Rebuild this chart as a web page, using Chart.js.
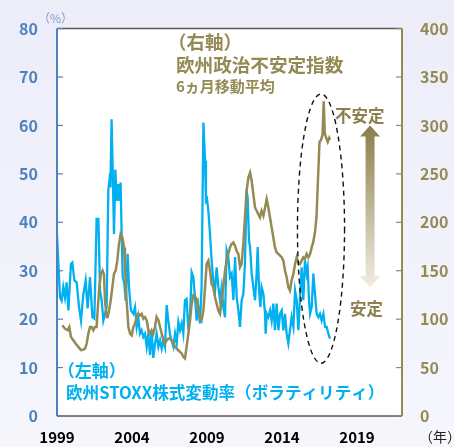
<!DOCTYPE html>
<html>
<head>
<meta charset="utf-8">
<script src="https://cdn.jsdelivr.net/npm/chart.js@4.4.0/dist/chart.umd.min.js"></script>
<style>
html,body{margin:0;padding:0;background:#f1f1fa;}
#wrap{width:454px;height:447px;}
</style>
</head>
<body>
<div id="wrap"><canvas id="myChart" width="454" height="447"></canvas></div>
<script>
// x axis (years)
const xTickValues = [1999, 2004, 2009, 2014, 2019]
const xTickLabels = ['1999', '2004', '2009', '2014', '2019']

// 欧州STOXX株式変動率 (left axis, %)
const volYears = [1999.0, 1999.2, 1999.31, 1999.42, 1999.53, 1999.64, 1999.76, 1999.93, 2000.02, 2000.16,
  2000.31, 2000.47, 2000.6, 2000.76, 2000.91, 2001.04, 2001.2, 2001.36, 2001.49, 2001.64,
  2001.76, 2001.87, 2001.98, 2002.09, 2002.2, 2002.31, 2002.42, 2002.49, 2002.56, 2002.64,
  2002.71, 2002.8, 2002.89, 2002.98, 2003.09, 2003.16, 2003.24, 2003.31, 2003.38, 2003.49,
  2003.58, 2003.71, 2003.8, 2003.93, 2004.09, 2004.2, 2004.31, 2004.42, 2004.53, 2004.64,
  2004.76, 2004.87, 2004.98, 2005.09, 2005.2, 2005.31, 2005.42, 2005.53, 2005.64, 2005.76,
  2005.87, 2005.98, 2006.09, 2006.2, 2006.31, 2006.42, 2006.53, 2006.64, 2006.76, 2006.87,
  2006.98, 2007.09, 2007.2, 2007.31, 2007.42, 2007.53, 2007.64, 2007.76, 2007.87, 2007.98,
  2008.09, 2008.2, 2008.31, 2008.42, 2008.53, 2008.64, 2008.76, 2008.87, 2008.93, 2009.0,
  2009.09, 2009.2, 2009.31, 2009.42, 2009.53, 2009.64, 2009.76, 2009.87, 2009.98, 2010.09,
  2010.2, 2010.31, 2010.42, 2010.53, 2010.64, 2010.76, 2010.87, 2010.98, 2011.09, 2011.2,
  2011.31, 2011.42, 2011.53, 2011.64, 2011.71, 2011.8, 2011.87, 2011.98, 2012.09, 2012.2,
  2012.31, 2012.38, 2012.47, 2012.56, 2012.64, 2012.76, 2012.87, 2012.91, 2012.98, 2013.09,
  2013.2, 2013.31, 2013.42, 2013.53, 2013.64, 2013.76, 2013.87, 2013.98, 2014.09, 2014.2,
  2014.31, 2014.42, 2014.53, 2014.64, 2014.76, 2014.87, 2014.98, 2015.09, 2015.2, 2015.31,
  2015.42, 2015.53, 2015.64, 2015.71, 2015.8, 2015.87, 2015.98, 2016.09, 2016.2, 2016.31,
  2016.42, 2016.53, 2016.64, 2016.76, 2016.87, 2016.98, 2017.09, 2017.2]
const volValues = [37.6, 24.5, 23.8, 26.6, 24.5, 27.6, 21.8, 31.4, 31.7, 28.0,
  27.6, 22.5, 19.7, 25.2, 28.0, 22.2, 28.7, 20.4, 20.1, 40.7,
  40.7, 25.9, 23.8, 19.7, 21.1, 22.5, 46.5, 48.6, 47.2, 61.3,
  51.3, 37.6, 50.9, 44.4, 47.9, 44.4, 48.2, 37.6, 28.7, 27.3,
  23.8, 33.5, 26.6, 21.8, 21.1, 22.5, 18.4, 20.4, 17.0, 17.7,
  16.3, 17.0, 14.3, 17.0, 12.6, 17.7, 12.0, 14.8, 17.0, 14.3,
  15.6, 13.9, 15.6, 14.3, 22.9, 19.7, 17.0, 15.6, 14.3, 17.0,
  15.0, 19.4, 17.7, 19.1, 17.0, 23.9, 24.2, 17.7, 21.1, 29.7,
  28.7, 24.6, 19.7, 22.5, 19.1, 26.6, 60.6, 52.7, 44.4, 44.8,
  42.4, 37.6, 32.1, 28.0, 25.6, 30.7, 26.6, 23.9, 26.6, 22.5,
  20.4, 34.2, 32.8, 28.7, 29.4, 23.9, 32.8, 24.5, 21.8, 18.4,
  23.9, 25.2, 31.4, 46.5, 45.1, 36.2, 34.9, 29.4, 26.6, 23.9,
  29.4, 34.9, 25.9, 22.5, 26.6, 25.2, 21.1, 17.0, 21.1, 20.4,
  21.8, 19.7, 23.2, 17.7, 23.2, 17.7, 21.1, 21.8, 17.7, 21.1,
  17.0, 15.0, 17.7, 20.4, 18.4, 25.9, 23.9, 17.7, 24.5, 30.7,
  23.9, 32.1, 29.4, 30.7, 23.9, 21.1, 22.5, 29.4, 25.2, 21.1,
  20.4, 21.1, 19.7, 21.1, 18.4, 18.4, 17.0, 16.0]

// 欧州政治不安定指数 6ヵ月移動平均 (right axis)
const gpiYears = [1999.36, 1999.53, 1999.71, 1999.82, 1999.93, 2000.09, 2000.24, 2000.42, 2000.6, 2000.76,
  2000.87, 2000.98, 2001.09, 2001.2, 2001.31, 2001.42, 2001.53, 2001.64, 2001.71, 2001.82,
  2001.93, 2002.04, 2002.13, 2002.2, 2002.31, 2002.38, 2002.47, 2002.58, 2002.69, 2002.8,
  2002.91, 2003.02, 2003.13, 2003.24, 2003.36, 2003.47, 2003.53, 2003.64, 2003.76, 2003.87,
  2003.98, 2004.09, 2004.2, 2004.31, 2004.42, 2004.53, 2004.64, 2004.76, 2004.87, 2004.98,
  2005.09, 2005.2, 2005.31, 2005.42, 2005.53, 2005.64, 2005.76, 2005.87, 2005.98, 2006.09,
  2006.2, 2006.31, 2006.42, 2006.53, 2006.64, 2006.76, 2006.87, 2006.98, 2007.09, 2007.2,
  2007.31, 2007.42, 2007.53, 2007.64, 2007.76, 2007.87, 2007.98, 2008.09, 2008.2, 2008.31,
  2008.42, 2008.53, 2008.64, 2008.76, 2008.87, 2008.98, 2009.09, 2009.2, 2009.31, 2009.42,
  2009.53, 2009.64, 2009.76, 2009.87, 2009.98, 2010.09, 2010.2, 2010.31, 2010.42, 2010.53,
  2010.64, 2010.76, 2010.87, 2010.98, 2011.09, 2011.2, 2011.31, 2011.42, 2011.53, 2011.64,
  2011.76, 2011.87, 2011.98, 2012.09, 2012.2, 2012.31, 2012.42, 2012.53, 2012.64, 2012.76,
  2012.87, 2012.98, 2013.09, 2013.2, 2013.31, 2013.42, 2013.53, 2013.64, 2013.76, 2013.87,
  2013.98, 2014.09, 2014.2, 2014.31, 2014.42, 2014.53, 2014.64, 2014.76, 2014.87, 2014.98,
  2015.09, 2015.2, 2015.31, 2015.42, 2015.53, 2015.64, 2015.76, 2015.87, 2015.98, 2016.09,
  2016.2, 2016.3, 2016.4, 2016.5, 2016.6, 2016.7, 2016.78, 2016.85, 2016.95, 2017.05,
  2017.15, 2017.2]
const gpiValues = [93.6, 90.2, 88.5, 91.9, 81.6, 78.2, 74.8, 71.4, 68.0, 68.6,
  69.6, 74.8, 85.1, 91.9, 91.9, 88.5, 91.9, 91.9, 109.0, 133.0,
  146.7, 150.1, 146.7, 119.3, 102.2, 102.2, 109.0, 119.3, 133.0, 146.7,
  150.1, 160.4, 177.5, 187.8, 184.4, 174.1, 153.6, 119.3, 91.9, 85.1,
  83.3, 91.9, 95.3, 102.2, 105.6, 103.9, 105.6, 100.5, 102.2, 98.8,
  88.5, 85.1, 88.5, 85.1, 91.9, 102.2, 98.8, 91.9, 85.1, 78.2,
  74.8, 78.2, 79.9, 79.9, 78.2, 74.8, 71.4, 69.6, 68.0, 66.3,
  64.6, 61.2, 59.5, 71.4, 85.1, 98.8, 115.9, 124.5, 122.8, 121.1,
  109.0, 102.2, 98.8, 109.0, 133.0, 157.0, 160.4, 150.1, 136.4, 133.0,
  122.8, 115.9, 109.0, 105.6, 119.3, 133.0, 150.1, 160.4, 167.3, 174.1,
  177.5, 179.2, 175.8, 170.0, 167.3, 153.6, 157.0, 177.5, 205.0, 232.4,
  246.1, 251.2, 242.7, 229.0, 215.3, 211.9, 208.5, 205.0, 211.9, 206.8,
  215.3, 223.9, 215.3, 205.0, 194.8, 184.5, 174.1, 169.0, 167.3, 165.6,
  163.9, 160.4, 150.1, 143.3, 133.0, 129.6, 139.9, 146.7, 157.0, 163.9,
  158.7, 157.0, 160.4, 163.9, 162.2, 167.3, 163.9, 167.3, 174.1, 180.0,
  190.0, 205.0, 245.0, 283.0, 285.0, 290.0, 325.0, 292.0, 287.0, 283.0,
  287.0, 285.0]

const BLUE = '#00b0f0'
const OLIVE = '#948a54'
const AXIS_BLUE = '#4f81bd'
const JP = '"Noto Sans CJK JP", "Noto Sans", sans-serif'

// decorations drawn on top of the plot (positions in data units)
const decor = {
  id: 'decor',
  beforeDraw(chart) {
    const ctx = chart.ctx, ca = chart.chartArea
    const g = ctx.createLinearGradient(0, 0, 0, chart.height)
    g.addColorStop(0, '#ecedf9')
    g.addColorStop(1, '#f6f6fd')
    ctx.save()
    ctx.fillStyle = g
    ctx.fillRect(0, 0, chart.width, chart.height)
    ctx.fillStyle = '#ffffff'
    ctx.fillRect(ca.left, ca.top, ca.right - ca.left, ca.bottom - ca.top)
    ctx.restore()
  },
  afterDraw(chart) {
    const ctx = chart.ctx, ca = chart.chartArea
    const x = chart.scales.x, yl = chart.scales.yL, yr = chart.scales.yR
    ctx.save()
    // frame
    ctx.lineWidth = 1.5
    ctx.strokeStyle = '#595959'
    ctx.beginPath()
    ctx.moveTo(ca.left, ca.top); ctx.lineTo(ca.right, ca.top)
    ctx.moveTo(ca.left, ca.bottom); ctx.lineTo(ca.right, ca.bottom)
    ctx.stroke()
    ctx.lineWidth = 2
    ctx.strokeStyle = AXIS_BLUE
    ctx.beginPath(); ctx.moveTo(ca.left, ca.top); ctx.lineTo(ca.left, ca.bottom); ctx.stroke()
    ctx.strokeStyle = OLIVE
    ctx.beginPath(); ctx.moveTo(ca.right, ca.top); ctx.lineTo(ca.right, ca.bottom); ctx.stroke()
    // inside tick marks
    ctx.lineWidth = 1.2
    ctx.strokeStyle = AXIS_BLUE
    yl.ticks.forEach(t => {
      const p = yl.getPixelForValue(t.value)
      ctx.beginPath(); ctx.moveTo(ca.left, p); ctx.lineTo(ca.left + 6, p); ctx.stroke()
    })
    ctx.strokeStyle = OLIVE
    yr.ticks.forEach(t => {
      const p = yr.getPixelForValue(t.value)
      ctx.beginPath(); ctx.moveTo(ca.right - 6, p); ctx.lineTo(ca.right, p); ctx.stroke()
    })

    // dashed ellipse
    const ex = x.getPixelForValue(2016.6), ey = yl.getPixelForValue(38.7)
    const erx = x.getPixelForValue(2016.6 + 1.57) - ex
    const ery = ey - yl.getPixelForValue(38.7 + 27.8)
    ctx.setLineDash([5, 4])
    ctx.lineWidth = 1.4
    ctx.strokeStyle = '#111'
    ctx.beginPath(); ctx.ellipse(ex, ey, erx, ery, 0, 0, Math.PI * 2); ctx.stroke()
    ctx.setLineDash([])

    // gradient double arrow
    const ax = x.getPixelForValue(2019.87)
    const aTop = yr.getPixelForValue(300), aBot = yr.getPixelForValue(133)
    const ag = ctx.createLinearGradient(0, aTop, 0, aBot)
    ag.addColorStop(0, '#8a7d48')
    ag.addColorStop(1, '#f1eee2')
    ctx.fillStyle = ag
    ctx.beginPath()
    ctx.moveTo(ax, aTop)
    ctx.lineTo(ax + 10, aTop + 11); ctx.lineTo(ax + 4.5, aTop + 11)
    ctx.lineTo(ax + 4.5, aBot - 11); ctx.lineTo(ax + 10, aBot - 11)
    ctx.lineTo(ax, aBot)
    ctx.lineTo(ax - 10, aBot - 11); ctx.lineTo(ax - 4.5, aBot - 11)
    ctx.lineTo(ax - 4.5, aTop + 11); ctx.lineTo(ax - 10, aTop + 11)
    ctx.closePath(); ctx.fill()

    // texts
    ctx.textBaseline = 'middle'
    ctx.textAlign = 'left'
    const txt = (s, xv, yv, scale, size, color) => {
      ctx.font = 'bold ' + size + 'px ' + JP
      ctx.fillStyle = color
      ctx.fillText(s, x.getPixelForValue(xv), scale.getPixelForValue(yv))
    }
    txt('（右軸）', 2006.4, 386.6, yr, 18.5, OLIVE)
    txt('欧州政治不安定指数', 2006.93, 363, yr, 18.6, OLIVE)
    txt('6ヵ月移動平均', 2006.93, 340.4, yr, 15, OLIVE)
    txt('不安定', 2017.53, 310, yr, 16.5, '#8c8050')
    txt('安定', 2018.53, 111, yr, 16.5, '#8c8050')
    txt('（左軸）', 1999.05, 9.47, yl, 17, BLUE)
    txt('欧州STOXX株式変動率（ボラティリティ）', 1999.6, 4.9, yl, 16.6, BLUE)

    ctx.font = '12px ' + JP
    ctx.fillStyle = '#7f9ccc'
    ctx.fillText('（%）', ca.left - 19, ca.top - 10)
    ctx.font = '14px ' + JP
    ctx.fillStyle = '#222'
    ctx.fillText('（年）', ca.right + 17, ca.bottom + 21)
    ctx.restore()
  }
}

const ctx = document.getElementById('myChart')

new Chart(ctx, {
  type: 'line',
  data: {
    datasets: [{
      label: '欧州STOXX株式変動率',
      data: volYears.map((v, i) => ({x: v, y: volValues[i]})),
      yAxisID: 'yL',
      borderColor: BLUE,
      borderWidth: 2.3,
      pointRadius: 0,
      tension: 0,
      order: 1
    }, {
      label: '欧州政治不安定指数',
      data: gpiYears.map((v, i) => ({x: v, y: gpiValues[i]})),
      yAxisID: 'yR',
      borderColor: OLIVE,
      borderWidth: 2.5,
      pointRadius: 0,
      tension: 0,
      order: 0
    }]
  },
  options: {
    responsive: false,
    devicePixelRatio: 1,
    animation: false,
    layout: {padding: {top: 27, left: 0, right: 0, bottom: 0}},
    plugins: {legend: {display: false}, tooltip: {enabled: false}},
    scales: {
      x: {
        type: 'linear',
        min: 1999,
        max: 2022,
        afterBuildTicks: s => { s.ticks = xTickValues.map(v => ({value: v})) },
        afterFit: s => { s.height = 31 },
        grid: {display: false, drawTicks: false},
        border: {display: false},
        ticks: {
          autoSkip: false,
          maxRotation: 0,
          padding: 12,
          color: '#000',
          font: {family: JP, size: 15, weight: 'bold'},
          callback: (v) => xTickLabels[xTickValues.indexOf(v)]
        }
      },
      yL: {
        position: 'left',
        min: 0,
        max: 80,
        afterFit: s => { s.width = 57 },
        grid: {display: false, drawTicks: false},
        border: {display: false},
        ticks: {stepSize: 10, padding: 19, color: AXIS_BLUE, font: {family: JP, size: 16, weight: 'bold'}}
      },
      yR: {
        position: 'right',
        min: 0,
        max: 400,
        afterFit: s => { s.width = 52 },
        grid: {display: false, drawTicks: false},
        border: {display: false},
        ticks: {stepSize: 50, padding: 18, color: OLIVE, font: {family: JP, size: 16, weight: 'bold'}}
      }
    }
  },
  plugins: [decor]
});
</script>
</body>
</html>
